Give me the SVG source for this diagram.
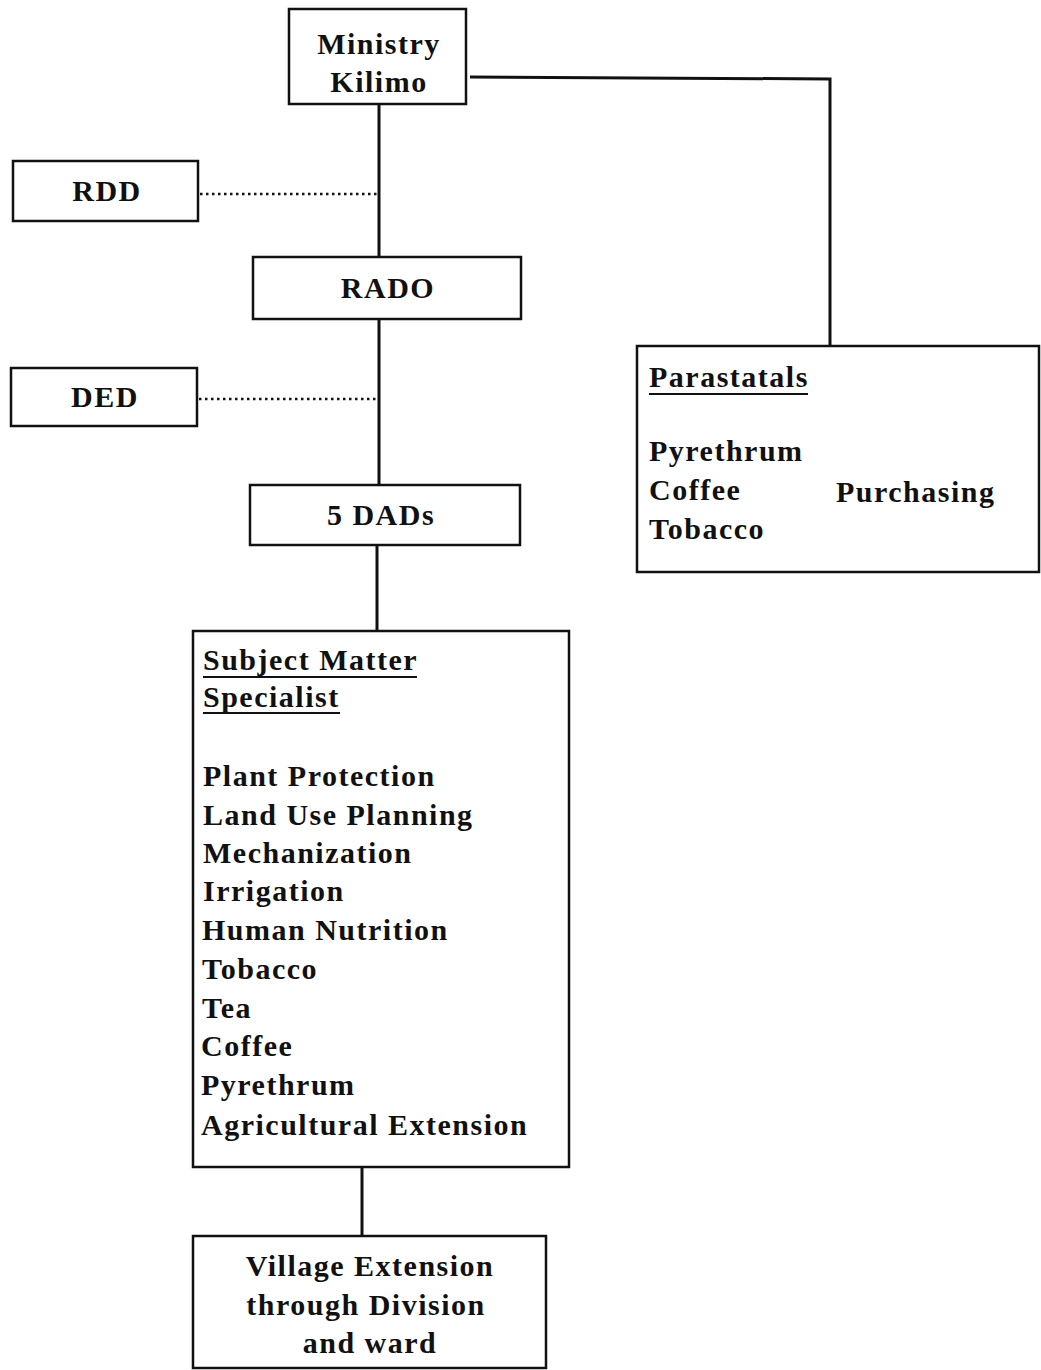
<svg xmlns="http://www.w3.org/2000/svg" width="1041" height="1370" viewBox="0 0 1041 1370">
<style>
.box{fill:#fff;stroke:#111;stroke-width:2.5}
.t{font-family:"Liberation Serif","Times New Roman",serif;font-weight:bold;font-size:30px;letter-spacing:1.5px;fill:#111}
.c{text-anchor:middle}
.solid{fill:none;stroke:#111;stroke-width:3}
.dot{fill:none;stroke:#111;stroke-width:2.5;stroke-dasharray:2.5 3.5}
.ul{stroke:#111;stroke-width:2}
</style>
<rect width="1041" height="1370" fill="#fff"/>
<g id="connectors">
<line class="solid" x1="379" y1="104" x2="379" y2="257"/>
<line class="solid" x1="379" y1="319" x2="379" y2="485"/>
<line class="solid" x1="377" y1="546" x2="377" y2="631"/>
<line class="solid" x1="362" y1="1167" x2="362" y2="1236"/>
<polyline class="solid" points="470,77 830,79 830,346"/>
<line class="dot" x1="200" y1="194" x2="379" y2="194"/>
<line class="dot" x1="199" y1="399" x2="379" y2="399"/>
</g>
<g id="ministry">
<rect class="box" x="289" y="9" width="177" height="95"/>
<text class="t c" x="379" y="54">Ministry</text>
<text class="t c" x="379" y="92">Kilimo</text>
</g>
<g id="rdd">
<rect class="box" x="13" y="161" width="185" height="60"/>
<text class="t c" x="107" y="201">RDD</text>
</g>
<g id="rado">
<rect class="box" x="253" y="257" width="268" height="62"/>
<text class="t c" x="388" y="298">RADO</text>
</g>
<g id="ded">
<rect class="box" x="11" y="368" width="186" height="58"/>
<text class="t c" x="105" y="407">DED</text>
</g>
<g id="dads">
<rect class="box" x="250" y="485" width="270" height="60"/>
<text class="t c" x="381" y="525">5 DADs</text>
</g>
<g id="parastatals">
<rect class="box" x="637" y="346" width="402" height="226"/>
<text class="t" x="649" y="387">Parastatals</text>
<line class="ul" x1="649" y1="394" x2="808" y2="394"/>
<text class="t" x="649" y="461">Pyrethrum</text>
<text class="t" x="649" y="500">Coffee</text>
<text class="t" x="836" y="502">Purchasing</text>
<text class="t" x="649" y="539">Tobacco</text>
</g>
<g id="sms">
<rect class="box" x="193" y="631" width="376" height="536"/>
<text class="t" x="203" y="670">Subject Matter</text>
<line class="ul" x1="203" y1="677" x2="417" y2="677"/>
<text class="t" x="203" y="707">Specialist</text>
<line class="ul" x1="203" y1="713" x2="340" y2="713"/>
<text class="t" x="203" y="786">Plant Protection</text>
<text class="t" x="203" y="825">Land Use Planning</text>
<text class="t" x="203" y="863">Mechanization</text>
<text class="t" x="203" y="901">Irrigation</text>
<text class="t" x="202" y="940">Human Nutrition</text>
<text class="t" x="202" y="979">Tobacco</text>
<text class="t" x="202" y="1018">Tea</text>
<text class="t" x="201" y="1056">Coffee</text>
<text class="t" x="201" y="1095">Pyrethrum</text>
<text class="t" x="201" y="1135">Agricultural Extension</text>
</g>
<g id="village">
<rect class="box" x="193" y="1236" width="353" height="132"/>
<text class="t c" x="370" y="1276">Village Extension</text>
<text class="t c" x="366" y="1315">through Division</text>
<text class="t c" x="370" y="1353">and ward</text>
</g>
</svg>
